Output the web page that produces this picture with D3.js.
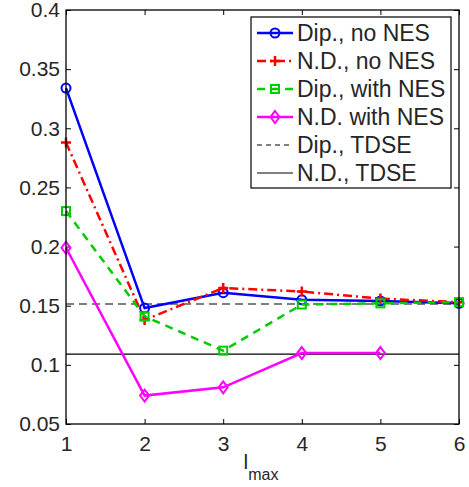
<!DOCTYPE html>
<html>
<head>
<meta charset="utf-8">
<script src="https://cdn.jsdelivr.net/npm/d3@7"></script>
<style>
  body { margin: 0; background: #fff; }
  text { font-family: "Liberation Sans", Arial, sans-serif; fill: #262626; }
</style>
</head>
<body>
<div id="chart"></div>
<script>
// data
const lmax = [1, 2, 3, 4, 5, 6];
const dipNoNES = [0.334, 0.148, 0.161, 0.155, 0.154, 0.152];
const ndNoNES = [0.288, 0.138, 0.165, 0.162, 0.156, 0.153];
const dipWithNES = [0.230, 0.141, 0.112, 0.151, 0.152, 0.153];
const ndWithNES = [0.199, 0.074, 0.081, 0.110, 0.110];
const dipTDSE = 0.1515;
const ndTDSE = 0.109;
const yTicks = [0.05, 0.1, 0.15, 0.2, 0.25, 0.3, 0.35, 0.4];
const legendLabels = ["Dip., no NES", "N.D., no NES", "Dip., with NES", "N.D. with NES", "Dip., TDSE", "N.D., TDSE"];

const W = 469, H = 487;
const margin = {top: 10, right: 10, bottom: 63, left: 66};
const width = W - margin.left - margin.right;
const height = H - margin.top - margin.bottom;

const svg = d3.select("#chart").append("svg")
    .attr("width", W)
    .attr("height", H);

const g = svg.append("g")
    .attr("transform", "translate(" + margin.left + "," + margin.top + ")");

const x = d3.scaleLinear().domain([1, 6]).range([0, width]);
const y = d3.scaleLinear().domain([0.05, 0.4]).range([height, 0]);

// axes with inward ticks
const tickLen = 5;
g.append("g").attr("transform", `translate(0,${height})`)
    .call(d3.axisBottom(x).tickValues(lmax).tickFormat(d3.format("d")).tickSizeInner(-tickLen).tickSizeOuter(0).tickPadding(12))
    .call(a => a.select(".domain").remove())
    .call(a => a.selectAll("text").attr("font-size", 21).attr("dy", "0.71em"));
g.append("g")
    .call(d3.axisTop(x).tickValues(lmax).tickFormat("").tickSizeInner(-tickLen).tickSizeOuter(0))
    .call(a => a.select(".domain").remove());
g.append("g")
    .call(d3.axisLeft(y).tickValues(yTicks).tickFormat(d => d3.format("")(+d.toFixed(2))).tickSizeInner(-tickLen).tickSizeOuter(0).tickPadding(6))
    .call(a => a.select(".domain").remove())
    .call(a => a.selectAll("text").attr("font-size", 21));
g.append("g").attr("transform", `translate(${width},0)`)
    .call(d3.axisRight(y).tickValues(yTicks).tickFormat("").tickSizeInner(-tickLen).tickSizeOuter(0))
    .call(a => a.select(".domain").remove());
g.selectAll(".tick line").attr("stroke", "#000");

// reference lines
g.append("line").attr("x1", 0).attr("x2", width)
    .attr("y1", y(dipTDSE)).attr("y2", y(dipTDSE))
    .attr("stroke", "#555").attr("stroke-width", 1.5).attr("stroke-dasharray", "8,5");
g.append("line").attr("x1", 0).attr("x2", width)
    .attr("y1", y(ndTDSE)).attr("y2", y(ndTDSE))
    .attr("stroke", "#000").attr("stroke-width", 1.2);

const series = [
    {vals: dipNoNES, color: "#0000ff", dash: null, marker: "circle"},
    {vals: ndNoNES, color: "#ff0000", dash: "9,4,2,4", marker: "plus"},
    {vals: dipWithNES, color: "#00cc00", dash: "8,6", marker: "square"},
    {vals: ndWithNES, color: "#ff00ff", dash: null, marker: "diamond"}
];

const line = d3.line().x((d, i) => x(lmax[i])).y(d => y(d));

function drawMarker(sel, type, color) {
    if (type === "circle") {
        sel.append("circle").attr("r", 4.5).attr("fill", "none").attr("stroke", color).attr("stroke-width", 2);
    } else if (type === "plus") {
        sel.append("path").attr("d", "M-5,0H5M0,-5V5").attr("stroke", color).attr("stroke-width", 2.5);
    } else if (type === "square") {
        sel.append("rect").attr("x", -4).attr("y", -4).attr("width", 8).attr("height", 8)
            .attr("fill", "none").attr("stroke", color).attr("stroke-width", 2);
    } else if (type === "diamond") {
        sel.append("path").attr("d", "M0,-6L4.5,0L0,6L-4.5,0Z").attr("fill", "none").attr("stroke", color).attr("stroke-width", 2);
    }
}

series.forEach(s => {
    g.append("path").datum(s.vals)
        .attr("d", line)
        .attr("fill", "none")
        .attr("stroke", s.color)
        .attr("stroke-width", 2.5)
        .attr("stroke-dasharray", s.dash);
    s.vals.forEach((v, i) => {
        const m = g.append("g").attr("transform", `translate(${x(lmax[i])},${y(v)})`);
        drawMarker(m, s.marker, s.color);
    });
});

// box
g.append("rect").attr("width", width).attr("height", height)
    .attr("fill", "none").attr("stroke", "#000").attr("stroke-width", 1.3);

// x label
const xl = svg.append("text").attr("x", margin.left + width / 2 - 19).attr("y", 469).attr("font-size", 21);
xl.append("tspan").text("l");
xl.append("tspan").attr("font-size", 16).attr("dy", 11).text("max");

// legend
const lg = svg.append("g").attr("transform", "translate(251,17)");
lg.append("rect").attr("width", 200).attr("height", 171)
    .attr("fill", "#fff").attr("stroke", "#000").attr("stroke-width", 1.2);
const legendStyles = [
    {color: "#0000ff", dash: null, marker: "circle", w: 2.5},
    {color: "#ff0000", dash: "9,4,2,4", marker: "plus", w: 2.5},
    {color: "#00cc00", dash: "8,6", marker: "square", w: 2.5},
    {color: "#ff00ff", dash: null, marker: "diamond", w: 2.5},
    {color: "#000", dash: "5,4", marker: null, w: 1},
    {color: "#000", dash: null, marker: null, w: 1}
];
legendLabels.forEach((lab, i) => {
    const ry = 16 + i * 28;
    const row = lg.append("g").attr("transform", `translate(0,${ry})`);
    const st = legendStyles[i];
    row.append("line").attr("x1", 6).attr("x2", 42)
        .attr("stroke", st.color).attr("stroke-width", st.w).attr("stroke-dasharray", st.dash);
    if (st.marker) drawMarker(row.append("g").attr("transform", "translate(24,0)"), st.marker, st.color);
    row.append("text").attr("x", 46).attr("dy", "0.36em").attr("font-size", 23).text(lab);
});
</script>
</body>
</html>
